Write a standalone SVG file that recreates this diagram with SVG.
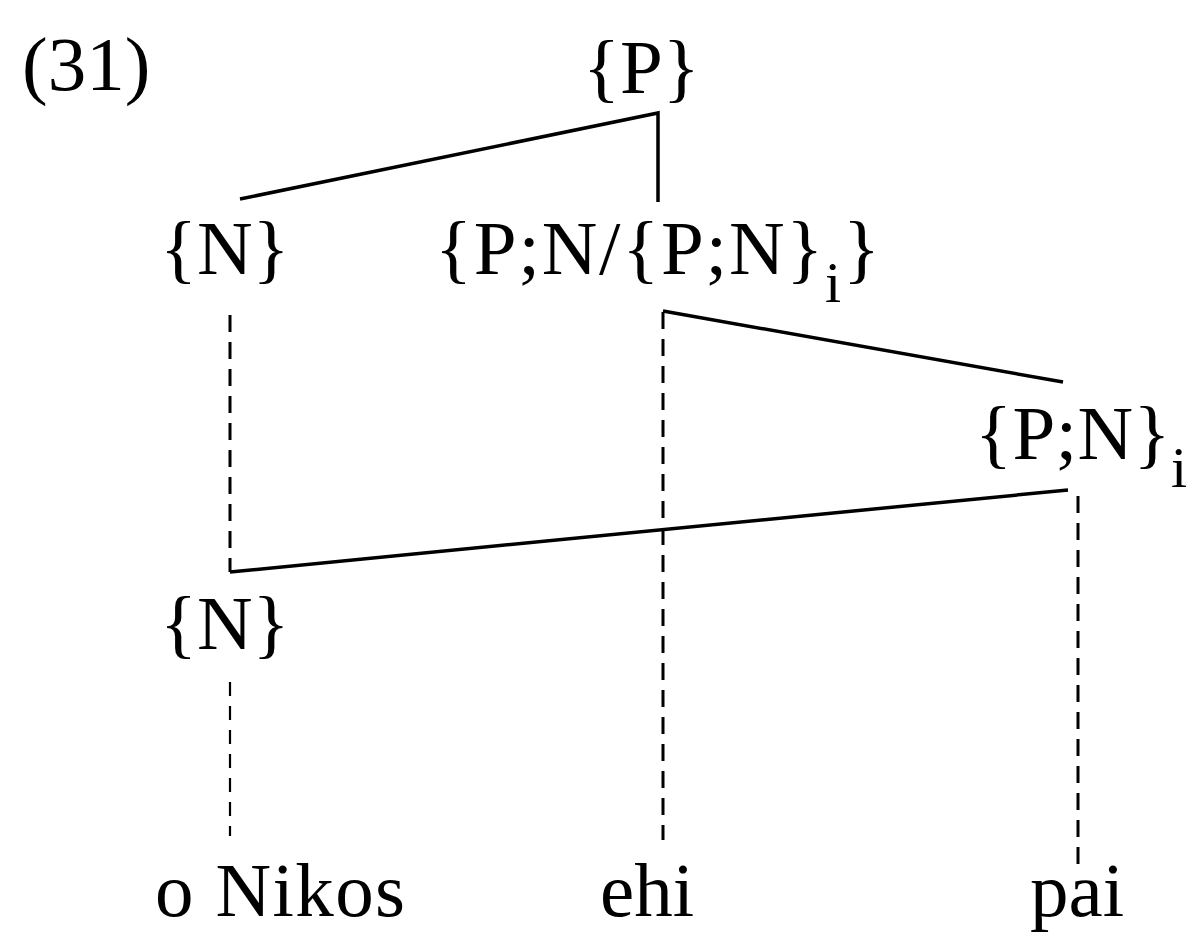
<svg xmlns="http://www.w3.org/2000/svg" width="1196" height="939" viewBox="0 0 1196 939">
<style>
text{font-family:"Liberation Serif","Times New Roman",serif;font-size:77px;fill:#000}
.sub{font-size:58px}
.solid{stroke:#000;stroke-width:3.5;fill:none}
.dash{stroke:#000;stroke-width:3;fill:none;stroke-dasharray:17 10}
.dash2{stroke:#000;stroke-width:2.2;fill:none;stroke-dasharray:14 10}
</style>
<rect width="1196" height="939" fill="#fff"/>
<g id="label31"><text x="22" y="90">(31)</text></g>
<g id="connectors">
<path class="solid" d="M240,199 L658,113 L658,202"/>
<path class="dash" d="M230,315 L230,572"/>
<path class="solid" d="M230,572 L1068,490"/>
<path class="dash" d="M663,312 L663,840"/>
<path class="solid" d="M663,311 L1063,382"/>
<path class="dash" d="M1078,496 L1078,866"/>
<path class="dash2" d="M230,682 L230,836"/>
</g>
<g id="nodeP"><text x="583" y="93">{P}</text></g>
<g id="nodeN1"><text x="160" y="274">{N}</text></g>
<g id="nodePN"><text x="435" y="274" textLength="445" lengthAdjust="spacing">{P;N/{P;N}<tspan class="sub" dy="28">i</tspan><tspan dy="-28">}</tspan></text></g>
<g id="nodePNi"><text x="975" y="459" textLength="212" lengthAdjust="spacing">{P;N}<tspan class="sub" dy="28">i</tspan></text></g>
<g id="nodeN2"><text x="160" y="649">{N}</text></g>
<g id="wordNikos"><text x="155" y="916" textLength="250" lengthAdjust="spacing">o Nikos</text></g>
<g id="wordEhi"><text x="600" y="916">ehi</text></g>
<g id="wordPai"><text x="1030" y="916">pai</text></g>
</svg>
